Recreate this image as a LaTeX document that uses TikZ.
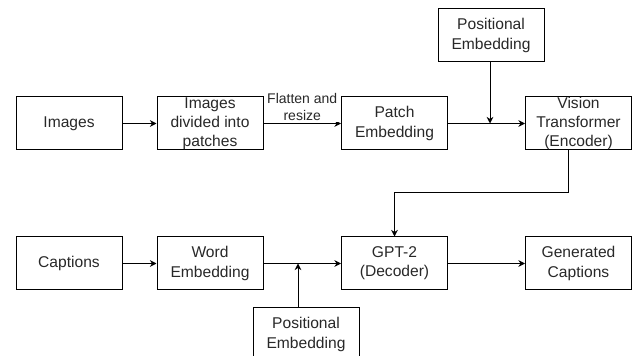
\documentclass[tikz,border=0pt]{standalone}
\usepackage{fontspec}
\setmainfont{Liberation Sans}
\usetikzlibrary{arrows.meta}
\definecolor{txtgray}{RGB}{40,40,40}
\tikzset{
  blockbox/.style={draw=black, line width=0.75pt, minimum width=79.5pt, minimum height=39.75pt, inner sep=0pt, align=center, text=txtgray, font=\fontsize{11.7}{14.3}\selectfont},
  flowline/.style={draw=black, line width=0.75pt, -{Stealth[length=5pt,width=5pt]}},
}
\begin{document}
\begin{tikzpicture}[x=0.75pt,y=0.75pt,yscale=-1,xscale=1]
\useasboundingbox (0,0) rectangle (636,356);

%Top row
\node [blockbox] (img) at (69,123.5) {Images};
\node [blockbox] (patches) at (210,123.5) {Images\\divided into\\patches};
\node [blockbox] (patchemb) at (394.5,123.5) {Patch\\Embedding};
\node [blockbox] (vit) at (578.5,123.5) {Vision\\Transformer\\(Encoder)};
\node [blockbox] (posa) at (491,35.5) {Positional\\Embedding};

%Bottom row
\node [blockbox] (cap) at (69,263.5) {Captions};
\node [blockbox] (word) at (210,263.5) {Word\\Embedding};
\node [blockbox] (gpt) at (394.5,263.5) {GPT-2\\(Decoder)};
\node [blockbox] (gen) at (578.5,263.5) {Generated\\Captions};
\node [blockbox] (posb) at (306,334.5) {Positional\\Embedding};

%Joints
\coordinate (ja) at (490,123.5);
\coordinate (jb) at (298,263.5);
\coordinate (bend) at (568,193);

%Connectors
\draw [flowline] (img) -- (patches);
\draw [flowline] (patches) -- (patchemb) node [midway, above=1pt, fill=white, inner sep=1pt, align=center, text=txtgray, font=\fontsize{10.5}{12.8}\selectfont] (flat) {Flatten and\\resize};
\draw [flowline] (patchemb) -- (vit);
\draw [flowline] (posa.south -| ja) -- (ja);
\draw [flowline] (vit.south -| bend) -- (bend) -| (gpt.north);
\draw [flowline] (cap) -- (word);
\draw [flowline] (word) -- (gpt);
\draw [flowline] (posb.north -| jb) -- (jb);
\draw [flowline] (gpt) -- (gen);

\end{tikzpicture}
\end{document}
